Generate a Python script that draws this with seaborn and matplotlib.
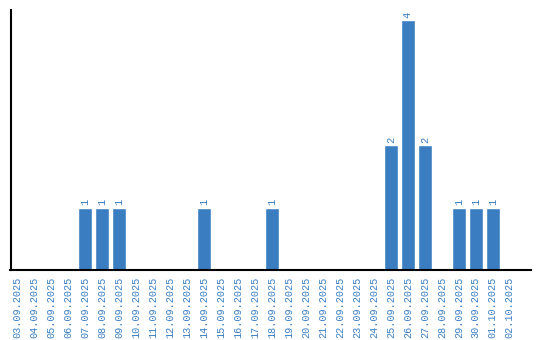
import matplotlib
matplotlib.use("Agg")
import matplotlib.pyplot as plt
import seaborn as sns
import pandas as pd

dates = ["03.09.2025", "04.09.2025", "05.09.2025", "06.09.2025", "07.09.2025",
         "08.09.2025", "09.09.2025", "10.09.2025", "11.09.2025", "12.09.2025",
         "13.09.2025", "14.09.2025", "15.09.2025", "16.09.2025", "17.09.2025",
         "18.09.2025", "19.09.2025", "20.09.2025", "21.09.2025", "22.09.2025",
         "23.09.2025", "24.09.2025", "25.09.2025", "26.09.2025", "27.09.2025",
         "28.09.2025", "29.09.2025", "30.09.2025", "01.10.2025", "02.10.2025"]
counts = [0, 0, 0, 0, 1, 1, 1, 0, 0, 0, 0, 1, 0, 0, 0, 1, 0, 0, 0, 0,
          0, 0, 2, 4, 2, 0, 1, 1, 1, 0]

df = pd.DataFrame({"date": dates, "count": counts})

sns.set_style("white")
plt.rcParams["font.family"] = ["Liberation Mono", "DejaVu Sans Mono"]

fig = plt.figure(figsize=(5.4, 3.4), dpi=100)
ax = fig.add_axes([10.5 / 540, 70 / 340, 520 / 540, 260 / 340])
color = "#3a7ec1"
sns.barplot(data=df, x="date", y="count", color=color, width=0.82,
            saturation=1, ax=ax)

for i, v in enumerate(counts):
    if v > 0:
        ax.text(i, v + 0.04, str(v), rotation=90, ha="center", va="bottom",
                color=color, fontsize=7.5)

ax.set_ylim(0, 4.16)
ax.set_xlim(-0.38, len(dates) - 1 + 1.22)
ax.set_xlabel("")
ax.set_ylabel("")
ax.set_yticks([])
ax.tick_params(axis="x", length=0, pad=5, labelsize=7.3, labelcolor=color,
               labelrotation=90)
for s in ["top", "right"]:
    ax.spines[s].set_visible(False)
for s in ["left", "bottom"]:
    ax.spines[s].set_color("black")
    ax.spines[s].set_linewidth(1.5)

fig.savefig("out.png", dpi=100)
